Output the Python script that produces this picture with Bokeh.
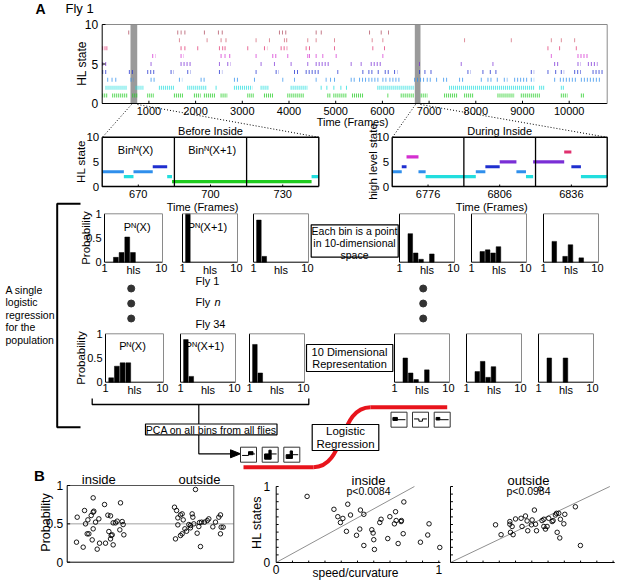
import numpy as np
from bokeh.plotting import figure
from bokeh.models import Range1d
from bokeh.core.properties import value
from bokeh.embed import file_html
from bokeh.resources import INLINE

FONT = value("Liberation Sans")

# ---------------- DATA ----------------
# high-level state colours (state 1..9)
HL_COLORS = ["#1fcc1f", "#22dede", "#2f8fec", "#1f2fcf", "#7a2fd6",
             "#d42fd0", "#e0306e", "#cf6070", "#b04d60"]

# Panel A top raster: occupancy intervals (frames) of each HL state
raster_state1 = [(0, 107), (214, 536), (643, 750), (964, 1107), (1536, 1750), (1964, 2107),
                 (2178, 2428), (2535, 2678), (3107, 3250), (3464, 3678), (3964, 4321),
                 (4821, 4900), (4950, 5250), (5350, 5607), (6107, 6127), (6392, 6678),
                 (6821, 6964), (7321, 7607), (7750, 7964), (8464, 8821), (8964, 9392),
                 (9821, 9964), (10250, 10321)]
raster_state2 = [(71, 536), (714, 893), (1214, 1536), (1821, 2250), (2428, 2464), (2821, 3214),
                 (3392, 3571), (4035, 4393), (4678, 4700), (4800, 4830), (4950, 4980),
                 (5100, 5130), (5220, 5250), (5892, 6678), (7428, 9250), (9357, 9464),
                 (9821, 9892)]
raster_state3 = [(107, 150), (200, 240), (280, 321), (607, 678), (1036, 1143), (1643, 1714),
                 (2107, 2214), (2821, 2928), (3250, 3285), (3857, 3877), (4107, 4127),
                 (4571, 4591), (4785, 4805), (4880, 4900), (4964, 5000), (5321, 5450),
                 (5500, 5650), (5700, 5950), (6000, 6100), (6150, 6392), (6678, 6900),
                 (6950, 7050), (7150, 7200), (7300, 7392), (7642, 7750), (8107, 8150),
                 (8250, 8350), (8450, 8500), (8600, 8678), (8821, 9107), (9178, 9250),
                 (9678, 9700), (9800, 10150), (10250, 10678)]
raster_state4 = [(0, 107), (571, 678), (964, 1143), (1464, 1536), (1821, 1893), (2500, 2571),
                 (3285, 3305), (3714, 3785), (4107, 4214), (4357, 4678), (5035, 5055),
                 (5571, 5620), (5700, 5800), (5900, 5950), (6050, 6150), (6250, 6321),
                 (6785, 6830), (6900, 6950), (7030, 7071), (7821, 7892), (8142, 8200),
                 (8300, 8350), (8420, 8464), (9178, 9250), (9535, 9600), (9700, 9750),
                 (9820, 9892), (10107, 10250), (10500, 10750)]
raster_state5 = [(0, 107), (1036, 1056), (1678, 1893), (2500, 2520), (2678, 2750), (3392, 3412),
                 (3678, 3698), (4035, 4055), (4392, 4412), (4571, 4857), (5321, 5341),
                 (5535, 5555), (5750, 5964), (6785, 6805), (7678, 7698), (8357, 8377),
                 (9678, 9785), (10178, 10250), (10400, 10607)]
raster_state6 = [(1071, 1143), (1678, 1750), (2535, 2560), (2620, 2640), (2720, 2750),
                 (3285, 3305), (3642, 3750), (3964, 3984), (4392, 4412), (4428, 4448),
                 (4571, 4591), (4714, 4734), (5000, 5020), (6000, 6020), (9607, 9627),
                 (10178, 10392)]
raster_state7 = [(0, 20), (50, 70), (90, 107), (1678, 1700), (1760, 1786), (2036, 2056),
                 (2500, 2520), (2570, 2590), (2620, 2643), (3107, 3127), (3464, 3535),
                 (3821, 3964), (4357, 4377), (4428, 4464), (4964, 4984), (5785, 5805),
                 (6035, 6055), (9535, 9555), (9785, 9805), (10142, 10162)]
raster_state8 = [(1643, 1663), (2236, 2256), (2535, 2560), (2640, 2678), (3285, 3305),
                 (3571, 3591), (3892, 3910), (3940, 3964), (4392, 4412), (4571, 4591),
                 (4964, 4984), (5771, 5791), (6000, 6020), (7750, 7770), (8750, 8770),
                 (9607, 9627), (9821, 9841), (10107, 10127)]
raster_state9 = [(557, 607), (1607, 1630), (1680, 1700), (1760, 1786), (2178, 2200),
                 (2478, 2500), (2560, 2593), (3785, 3810), (3850, 3870), (3920, 3950),
                 (4571, 4600), (4680, 4714), (5714, 5740), (5964, 5990), (6121, 6140)]
raster_rows = [raster_state1, raster_state2, raster_state3, raster_state4, raster_state5,
               raster_state6, raster_state7, raster_state8, raster_state9]
highlight_bands = [(606, 750), (6694, 6816)]
top_xticks = [1000, 2000, 3000, 4000, 5000, 6000, 7000, 8000, 9000, 10000]
state_ticks = [0, 5, 10]

# Zoomed "Before Inside" segments
before_start = [655, 664, 668, 676, 682, 684, 742]
before_end = [664, 668, 676, 682, 684, 742, 745]
before_state = [3, 2, 3, 4, 2, 1, 2]
before_ticks = [670, 700, 730]
before_edges = [685, 715]

# Zoomed "During Inside" segments
during_start = [6761, 6765, 6767, 6772, 6775, 6796, 6800, 6806, 6813, 6817, 6820, 6833, 6836, 6840]
during_end = [6765, 6767, 6772, 6775, 6796, 6800, 6806, 6813, 6817, 6820, 6833, 6836, 6840, 6851]
during_state = [3, 4, 6, 3, 2, 3, 4, 5, 3, 2, 5, 7, 4, 2]
during_ticks = [6776, 6806, 6836]
during_edges = [6791, 6821]

# Histograms of HL states per bin (Fly 1 row, Fly 34 row)
hist_row1_states = [[2, 3, 4, 5], [1], [1, 2], [2, 3, 4, 6], [2, 3, 4, 5], [2, 4, 5, 7]]
hist_row1_probs = [[0.10, 0.20, 0.52, 0.20], [1.0], [0.87, 0.12], [0.59, 0.19, 0.06, 0.17],
                   [0.22, 0.255, 0.19, 0.32], [0.43, 0.12, 0.36, 0.09]]
hist_row2_states = [[1, 2, 3, 4], [1, 2], [1, 2], [2, 3, 4, 6], [2, 3, 4, 5], [2, 5]]
hist_row2_probs = [[0.09, 0.33, 0.40, 0.40], [0.88, 0.12], [0.78, 0.19], [0.50, 0.19, 0.055, 0.255],
                   [0.22, 0.43, 0.10, 0.32], [0.50, 0.50]]

# Panel B left: classification probability per fly
prob_inside_x = [0.762, 0.755, 0.823, 0.837, 0.847, 0.871, 0.864, 0.881, 0.905, 0.925, 0.925,
                 0.932, 0.925, 0.915, 0.949, 0.966, 0.983, 0.990, 1.041, 1.051, 1.075, 1.102,
                 1.085, 1.102, 1.119, 1.129, 1.129, 1.153, 1.170, 1.204, 1.197, 1.221, 1.231,
                 1.238, 1.109]
prob_inside_y = [0.587, 0.261, 0.196, 0.674, 0.500, 0.552, 0.370, 0.370, 0.609, 0.839, 0.652,
                 0.665, 0.435, 0.291, 0.522, 0.170, 0.565, 0.248, 0.752, 0.248, 0.613, 0.604,
                 0.400, 0.304, 0.357, 0.226, 0.513, 0.513, 0.535, 0.774, 0.422, 0.530, 0.491,
                 0.357, 0.348]
prob_outside_x = [1.755, 1.776, 1.789, 1.789, 1.765, 1.816, 1.833, 1.816, 1.833, 1.844, 1.861,
                  1.878, 1.901, 1.918, 1.918, 1.935, 1.942, 1.952, 1.969, 1.986, 2.003, 2.010,
                  2.020, 2.031, 2.061, 2.089, 2.105, 2.146, 2.173, 2.207, 2.224, 2.224, 2.231,
                  2.252]
prob_outside_y = [0.717, 0.674, 0.578, 0.487, 0.304, 0.348, 0.370, 0.617, 0.630, 0.552, 0.435,
                  0.404, 0.491, 0.448, 0.478, 0.630, 0.587, 0.500, 0.948, 0.378, 0.465, 0.517,
                  0.204, 0.522, 0.522, 0.543, 0.565, 0.461, 0.522, 0.587, 0.617, 0.370, 0.457,
                  0.457]
prob_ticks = [0, 0.5, 1]

# Panel B scatter: HL states vs speed/curvature
sc_inside_x = [0.19, 0.355, 0.379, 0.395, 0.41, 0.432, 0.44, 0.457, 0.494, 0.514, 0.518, 0.539,
               0.539, 0.588, 0.596, 0.60, 0.604, 0.637, 0.645, 0.686, 0.699, 0.727, 0.734, 0.738,
               0.75, 0.768, 0.770, 0.781, 0.785, 0.887, 0.932, 0.94, 1.006]
sc_inside_y = [0.87, 0.70, 0.603, 0.526, 0.58, 0.41, 0.767, 0.625, 0.358, 0.44, 0.69, 0.634,
               0.224, 0.431, 0.388, 0.30, 0.172, 0.526, 0.569, 0.315, 0.603, 0.509, 0.668, 0.552,
               0.25, 0.539, 0.552, 0.379, 0.797, 0.267, 0.362, 0.509, 0.198]
sc_outside_x = [0.277, 0.311, 0.365, 0.365, 0.369, 0.379, 0.385, 0.40, 0.434, 0.44, 0.461, 0.471,
                0.475, 0.498, 0.502, 0.516, 0.523, 0.529, 0.553, 0.563, 0.574, 0.574, 0.584,
                0.594, 0.604, 0.625, 0.631, 0.645, 0.652, 0.656, 0.666, 0.676, 0.672, 0.697,
                0.768, 0.799, 0.703]
sc_outside_y = [0.496, 0.366, 0.539, 0.504, 0.397, 0.474, 0.366, 0.573, 0.582, 0.474, 0.612,
                0.547, 0.418, 0.496, 0.56, 0.69, 0.504, 0.418, 0.97, 0.552, 0.569, 0.474, 0.44,
                0.474, 0.582, 0.539, 0.552, 0.625, 0.647, 0.397, 0.647, 0.569, 0.323, 0.509,
                0.733, 0.224, 0.634]
diag_inside_x = [0, 0.85]
diag_inside_y = [0, 1]
diag_outside_x = [0, 0.98]
diag_outside_y = [0, 1]
minor_ticks = [0.1, 0.2, 0.3, 0.4, 0.5, 0.6, 0.7, 0.8, 0.9, 1.0]

# ---------------- FIGURE (page canvas in pixel-like coordinates) ----------------
p = figure(width=617, height=582, x_range=Range1d(0, 617), y_range=Range1d(582, 0),
           x_axis_location=None, y_axis_location=None, toolbar_location=None,
           output_backend="svg", min_border=0)
p.grid.visible = False
p.outline_line_color = None


def txt(g, x, y, s, size=11, align="center", baseline="middle", angle=0.0,
        style="normal", color="black", xo=0, yo=0):
    xs = x if isinstance(x, list) else [x]
    ys = y if isinstance(y, list) else [y] * len(xs)
    ss = s if isinstance(s, list) else [s] * len(xs)
    g.text(x=xs, y=ys, text=ss, text_font=FONT, text_font_size=f"{size}px",
           text_align=align, text_baseline=baseline, angle=angle,
           text_font_style=style, text_color=color, x_offset=xo, y_offset=yo)


class Panel:
    def __init__(self, left, right, top, bottom, xr, yr):
        self.xr, self.yr = xr, yr
        self.g = p.subplot(x_source=Range1d(*xr), y_source=Range1d(*yr),
                           x_target=Range1d(left, right), y_target=Range1d(bottom, top))

    def frame(self, lb="black", tr="black", width=1.0, trwidth=None):
        (a, b), (c, d) = self.xr, self.yr
        g = self.g
        g.line(x=[a, a, b], y=[d, c, c], line_color=lb, line_width=width)
        g.line(x=[a, b, b], y=[d, d, c], line_color=tr, line_width=trwidth or width)


# ---------- "A" header ----------
txt(p, 35, 8, "A", size=14, style="bold", align="left")
txt(p, 65, 8, "Fly 1", size=13, align="left")

# ---------- top raster ----------
top = Panel(101.7, 606.7, 24, 103, (0, 10814), (0, 10))
for (b0, b1) in highlight_bands:
    top.g.quad(left=[b0], right=[b1], bottom=[0], top=[10], fill_color="#9a9a9a",
               line_color=None)
for k, row in enumerate(raster_rows):
    st = k + 1
    x0 = [a for a, b in row]
    x1 = [max(b, a + 20) for a, b in row]
    top.g.segment(x0=x0, y0=[st] * len(row), x1=x1, y1=[st] * len(row),
                  line_color=HL_COLORS[k], line_width=4,
                  line_dash="1 1" if st <= 2 else "1 2", line_alpha=0.75)
top.frame(lb="black", tr="#8a8a8a")
top.g.segment(x0=top_xticks, y0=[0] * 10, x1=top_xticks, y1=[0.35] * 10, line_color="black")
top.g.segment(x0=[0] * 3, y0=state_ticks, x1=[70] * 3, y1=state_ticks, line_color="black")
txt(top.g, top_xticks, 0, [str(t) for t in top_xticks], size=11, baseline="top", yo=3)
txt(top.g, [0] * 3, state_ticks, [str(t) for t in state_ticks], size=12, align="right", xo=-4)
txt(p, 81.5, 63, "HL state", size=12, angle=np.pi / 2)
txt(p, 352, 121, "Time (Frames)", size=11)

# dotted zoom guides
dot = dict(line_color="black", line_width=1, line_dash="1 2")
p.line(x=[131, 102], y=[104, 136.7], **dot)
p.line(x=[137, 318], y=[104, 136.7], **dot)
p.line(x=[415, 392], y=[104, 136.7], **dot)
p.line(x=[420, 606], y=[104, 136.7], **dot)


def zoom_panel(left, right, xr, starts, ends, states, ticks, edges, title, ylab, ylab_x):
    pan = Panel(left, right, 136.7, 186, xr, (0, 10))
    g = pan.g
    g.quad(left=starts, right=ends, bottom=[s - 0.32 for s in states],
           top=[s + 0.32 for s in states], fill_color=[HL_COLORS[s - 1] for s in states],
           line_color=None)
    g.segment(x0=edges, y0=[0] * len(edges), x1=edges, y1=[10] * len(edges),
              line_color="black", line_width=1.3)
    pan.frame(width=1.4)
    g.segment(x0=ticks, y0=[0] * 3, x1=ticks, y1=[0.4] * 3, line_color="black")
    txt(g, ticks, 0, [str(t) for t in ticks], size=11, baseline="top", yo=3)
    txt(g, [xr[0]] * 3, state_ticks, [str(t) for t in state_ticks], size=11.5,
        align="right", xo=-3)
    txt(p, (left + right) / 2, 130.5, title, size=11)
    txt(p, ylab_x, 161, ylab, size=11.5, angle=np.pi / 2)
    txt(p, (left + right) / 2 - 8, 206, "Time (Frames)", size=11)
    return pan


zoom_panel(101.7, 318.3, (655, 745), before_start, before_end, before_state,
           before_ticks, before_edges, "Before Inside", "HL state", 80)
zoom_panel(391.7, 606.7, (6761, 6851), during_start, during_end, during_state,
           during_ticks, during_edges, "During Inside", "high level state", 372)
txt(p, 135, 149, "Binᴺ(X)", size=11)
txt(p, 211.7, 149, "Binᴺ(X+1)", size=11)

# ---------- histograms ----------
row1_left = [104, 182, 253, 399, 471, 543]
row2_left = [105, 180, 249, 394, 466, 538]


def hist_row(lefts, top_y, bottom_y, states_l, probs_l, lab_y):
    for i, (l, s, pr) in enumerate(zip(lefts, states_l, probs_l)):
        w = 58 if i == 0 else 55
        pan = Panel(l, l + w, top_y, bottom_y, (0, 10.2), (0, 1))
        g = pan.g
        g.vbar(x=s, top=pr, bottom=0, width=0.85, fill_color="black", line_color="black",
               line_width=0.5)
        pan.frame(lb="black", tr="#8a8a8a")
        txt(g, [0, 5.1, 10], 0, ["1", "hls", "10"], size=11, baseline="top", yo=2)
        if i == 0:
            txt(g, [0] * 3, [0, 0.5, 1], ["0", "0.5", "1"], size=11, align="right", xo=-3)
            txt(p, lab_y, (top_y + bottom_y) / 2, "Probability", size=11.5, angle=np.pi / 2)


hist_row(row1_left, 213.3, 261.7, hist_row1_states, hist_row1_probs, 85)
hist_row(row2_left, 333.3, 381.7, hist_row2_states, hist_row2_probs, 80)
txt(p, 136.7, 226, "Pᴺ(X)", size=11)
txt(p, 207, 226, "Pᴺ(X+1)", size=11)
txt(p, 132, 345, "Pᴺ(X)", size=11)
txt(p, 204, 345, "Pᴺ(X+1)", size=11)

# text boxes
p.quad(left=[310.7], right=[397.7], top=[224.3], bottom=[256.7], fill_color="white",
       line_color="black", line_width=1.2)
txt(p, 354, 230.5, "Each bin is a point", size=10.5)
txt(p, 354, 242.5, "in 10-dimensional", size=10.5)
txt(p, 354, 254.5, "space", size=10.5)
p.quad(left=[306], right=[392.3], top=[344], bottom=[371], fill_color="white",
       line_color="black", line_width=1.2)
txt(p, 349, 351, "10 Dimensional", size=11)
txt(p, 349, 363.5, "Representation", size=11)

# flies
txt(p, 195, 280, "Fly 1", size=11, align="left")
txt(p, 195, 301, "Fly", size=11, align="left")
txt(p, 214, 301, "n", size=11, align="left", style="italic")
txt(p, 195, 323, "Fly 34", size=11, align="left")
p.scatter(x=[130.7] * 3 + [422.7] * 3, y=[288, 303, 318] * 2, size=7, color="#333333")

for k, s in enumerate(["A single", "logistic", "regression", "for the", "population"]):
    txt(p, 5, 289 + 12.6 * k, s, size=10.5, align="left")

# big bracket
p.line(x=[80, 56.7, 56.7, 80], y=[203.3, 203.3, 426.7, 426.7], line_color="black", line_width=2)
# lower bracket + arrow to PCA
p.line(x=[91.7, 91.7, 308.3, 308.3], y=[398, 404, 404, 398], line_color="black", line_width=1.3)
p.line(x=[198.3, 198.3], y=[404, 424], line_color="black", line_width=1.2)
p.line(x=[198.3, 198.3, 232], y=[434.3, 453.3, 453.3], line_color="black", line_width=1.2)
p.patch(x=[230, 240, 230], y=[449.3, 453.3, 457.3], color="black")
p.quad(left=[145], right=[276.5], top=[423.5], bottom=[434.3], fill_color="white",
       line_color="black", line_width=1.2)
txt(p, 210.7, 429.2, "PCA on all bins from all flies", size=10.5)

# red sigmoid + logistic regression box
p.line(x=[243, 313], y=[466.7, 466.7], line_color="#e8141c", line_width=4)
p.bezier(x0=[313], y0=[466.7], x1=[370], y1=[406.7], cx0=[345], cy0=[466.7],
         cx1=[338], cy1=[406.7], line_color="#e8141c", line_width=4)
p.line(x=[370, 446.7], y=[406.7, 406.7], line_color="#e8141c", line_width=4)
p.quad(left=[311.7], right=[378.3], top=[424], bottom=[450], fill_color="white",
       line_color="black", line_width=1.2)
txt(p, 345, 430.5, "Logistic", size=11.5)
txt(p, 345, 443, "Regression", size=11.5)

# PCA component icons
ICON_PARTS = {
    "L1": [("l", 0.1, 0.55, 0.5, 0.55), ("l", 0.5, 0.55, 0.5, 0.45), ("r", 0.5, 0.78, 0.3, 0.5),
           ("l", 0.78, 0.45, 0.9, 0.45)],
    "L2": [("r", 0.15, 0.42, 0.45, 0.8), ("r", 0.42, 0.56, 0.2, 0.8), ("l", 0.56, 0.45, 0.9, 0.45)],
    "L3": [("r", 0.15, 0.4, 0.5, 0.75), ("r", 0.4, 0.54, 0.25, 0.75), ("l", 0.54, 0.5, 0.9, 0.5)],
    "R1": [("r", 0.12, 0.4, 0.35, 0.55), ("l", 0.4, 0.5, 0.9, 0.5)],
    "R2": [("l", 0.1, 0.45, 0.4, 0.45), ("l", 0.4, 0.45, 0.4, 0.6), ("l", 0.4, 0.6, 0.62, 0.6),
           ("l", 0.62, 0.6, 0.62, 0.45), ("l", 0.62, 0.45, 0.9, 0.45)],
    "R3": [("r", 0.12, 0.35, 0.35, 0.52), ("l", 0.35, 0.5, 0.9, 0.5)],
}


def icon(l, t, kind, w=16, h=15):
    p.quad(left=[l], right=[l + w], top=[t], bottom=[t + h], fill_color="white",
           line_color="#333333", line_width=1)
    for part in ICON_PARTS[kind]:
        if part[0] == "l":
            _, a, b, c, d = part
            p.line(x=[l + a * w, l + c * w], y=[t + b * h, t + d * h], line_color="black",
                   line_width=1)
        else:
            _, a, c, b, d = part
            p.quad(left=[l + a * w], right=[l + c * w], top=[t + b * h], bottom=[t + d * h],
                   color="black")


icon(240, 446.7, "L1")
icon(261.7, 446.7, "L2")
icon(283.3, 446.7, "L3")
icon(390.5, 411.7, "R1")
icon(412, 411.7, "R2")
icon(433.7, 411.7, "R3")

# ---------- Panel B ----------
txt(p, 39, 475, "B", size=15, style="bold")

bl = Panel(66.7, 233.3, 485, 561.7, (0.66, 2.36), (0, 1))
bl.g.line(x=[0.66, 2.36], y=[0.5, 0.5], line_color="#a0a0a0", line_width=1)
bl.g.scatter(x=prob_inside_x, y=prob_inside_y, marker="circle", size=4.5, fill_color=None,
             line_color="black", line_width=0.9)
bl.g.scatter(x=prob_outside_x, y=prob_outside_y, marker="circle", size=4.5, fill_color=None,
             line_color="black", line_width=0.9)
bl.frame(lb="black", tr="#555555")
bl.g.segment(x0=[0.66] * 3, y0=prob_ticks, x1=[0.69] * 3, y1=prob_ticks, line_color="black")
txt(bl.g, [0.66] * 3, prob_ticks, ["0", "0.5", "1"], size=12, align="right", xo=-4)
txt(p, 98.3, 478.5, "inside", size=13)
txt(p, 199, 478.5, "outside", size=13)
txt(p, 45, 522, "Probability", size=12.5, angle=np.pi / 2)


def scatter_panel(left, right, xs, ys, dx, dy, title, ptxt, tx):
    pan = Panel(left, right, 486, 562, (0, 1), (0, 1))
    g = pan.g
    g.line(x=dx, y=dy, line_color="#909090", line_width=1)
    g.scatter(x=xs, y=ys, marker="circle", size=4.5, fill_color=None, line_color="black",
              line_width=0.9)
    g.line(x=[0, 0, 1.01], y=[1, 0, 0], line_color="black", line_width=1)
    g.segment(x0=minor_ticks, y0=[0] * 10, x1=minor_ticks, y1=[0.025] * 10, line_color="black")
    g.segment(x0=[0] * 10, y0=minor_ticks, x1=[0.015] * 10, y1=minor_ticks, line_color="black")
    txt(p, tx, 480, title, size=13)
    txt(p, tx, 490.5, ptxt, size=10.5)
    return pan


sm = scatter_panel(275.7, 438.3, sc_inside_x, sc_inside_y, diag_inside_x, diag_inside_y,
                   "inside", "p<0.0084", 368)
txt(sm.g, [0, 1], 0, ["0", "1"], size=12, baseline="top", yo=2)
txt(sm.g, [0, 0], [0, 1], ["0", "1"], size=12, align="right", xo=-6)
txt(p, 256.7, 522, "HL states", size=12.5, angle=np.pi / 2)
txt(p, 355, 572, "speed/curvature", size=12)
scatter_panel(450, 612.6, sc_outside_x, sc_outside_y, diag_outside_x, diag_outside_y,
              "outside", "p<0.0984", 528)

open("out.html", "w").write(file_html(p, INLINE))
